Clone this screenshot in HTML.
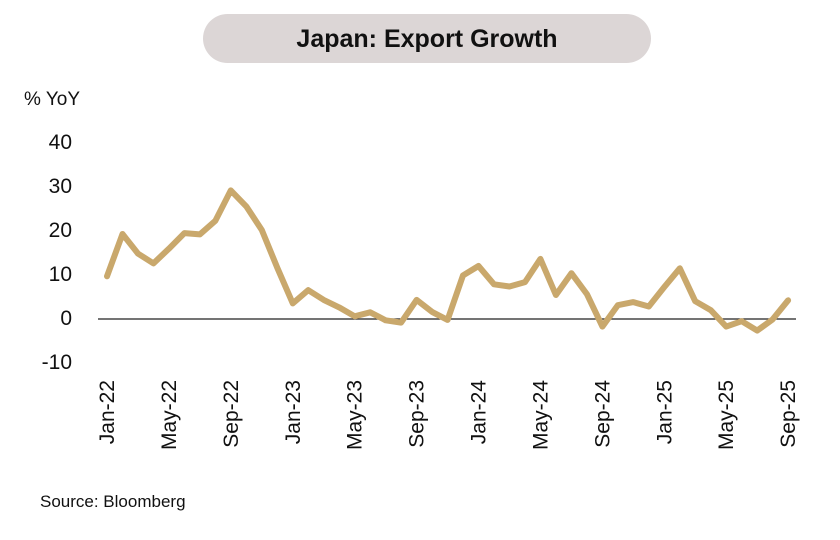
<!DOCTYPE html>
<html><head><style>
body{margin:0;background:#fff;width:840px;height:535px;overflow:hidden;font-family:"Liberation Sans",sans-serif}
</style></head><body>
<svg width="840" height="535" xmlns="http://www.w3.org/2000/svg" font-family="Liberation Sans, sans-serif">
<rect x="203" y="14" width="448" height="49" rx="24.5" fill="#dcd6d6"/>
<text x="427" y="47" text-anchor="middle" font-size="25" font-weight="bold" fill="#111">Japan: Export Growth</text>
<text x="24" y="105" font-size="19" fill="#111">% YoY</text>
<g font-size="21" fill="#111" text-anchor="end">
<text x="72" y="149">40</text><text x="72" y="193">30</text><text x="72" y="237">20</text>
<text x="72" y="281">10</text><text x="72" y="325">0</text><text x="72" y="369">-10</text>
</g>
<line x1="98" y1="319" x2="796" y2="319" stroke="#222" stroke-width="1.2"/>
<polyline id="ln" fill="none" stroke="#c9a86c" stroke-width="6" stroke-linejoin="round" stroke-linecap="round" points=""/>
<g id="xl" font-size="21" fill="#111"></g>
<text x="40" y="507" font-size="17" fill="#111">Source: Bloomberg</text>
</svg>
<script>
var d=[9.6,19.1,14.7,12.5,15.8,19.3,19.0,22.1,28.9,25.3,20.0,11.5,3.5,6.5,4.3,2.6,0.6,1.5,-0.3,-0.8,4.3,1.6,-0.2,9.8,11.9,7.8,7.3,8.3,13.5,5.4,10.3,5.6,-1.7,3.1,3.8,2.8,7.2,11.4,4.0,2.0,-1.7,-0.5,-2.6,-0.1,4.2];
var p=d.map(function(v,i){return (107+i*15.48).toFixed(1)+","+(319-v*4.45).toFixed(1)}).join(" ");
document.getElementById("ln").setAttribute("points",p);
var labs=["Jan-22","May-22","Sep-22","Jan-23","May-23","Sep-23","Jan-24","May-24","Sep-24","Jan-25","May-25","Sep-25"];
var g=document.getElementById("xl"),s="";
labs.forEach(function(l,k){var x=107+k*4*15.48+7;s+='<text transform="translate('+x.toFixed(1)+',380) rotate(-90)" text-anchor="end">'+l+'</text>';});
g.innerHTML=s;
</script>
</body></html>
